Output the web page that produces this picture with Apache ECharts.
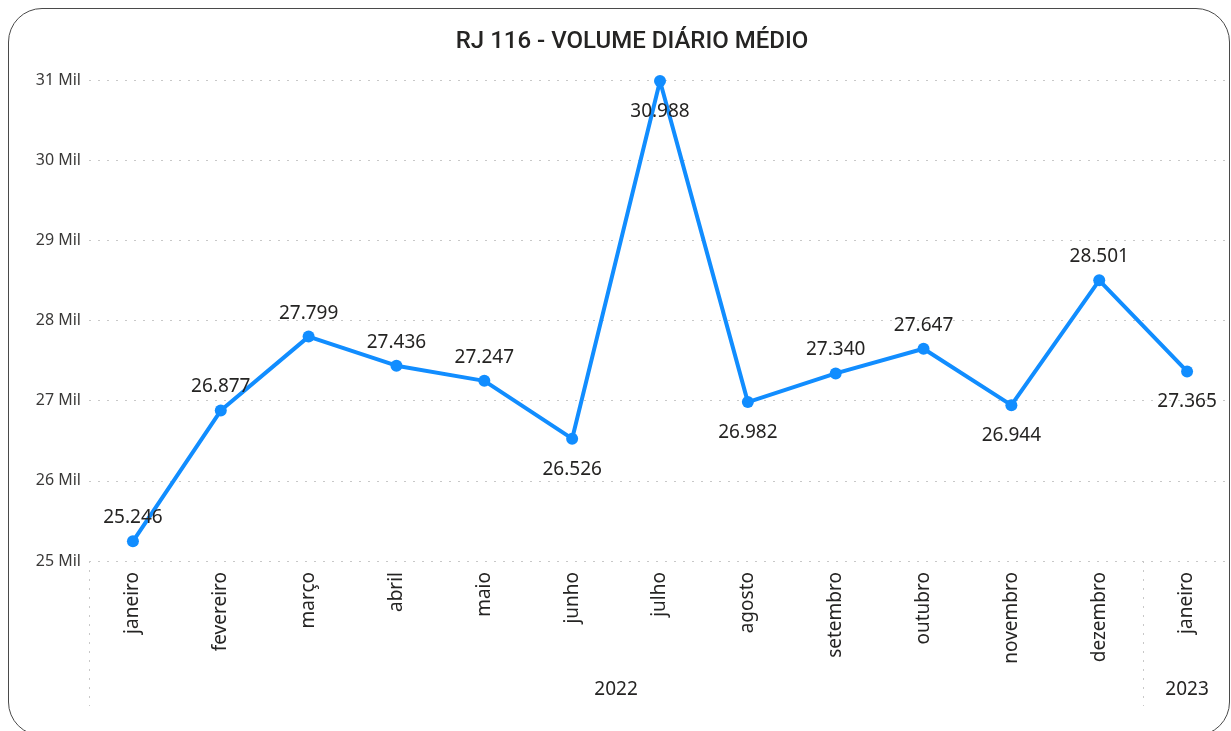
<!DOCTYPE html>
<html>
<head>
<meta charset="utf-8">
<script src="https://cdn.jsdelivr.net/npm/echarts@6/dist/echarts.min.js"></script>
<style>
  html, body { margin: 0; padding: 0; background: #ffffff; overflow: hidden; }
  #frame {
    position: absolute; left: 8px; top: 8px; width: 1222px; height: 728px;
    border: 1.6px solid #4a4a4a; border-radius: 34px; box-sizing: border-box;
  }
  #chart { position: absolute; left: 0; top: 0; width: 1231px; height: 731px; }
</style>
</head>
<body>
<div id="frame"></div>
<div id="chart"></div>
<script>
// Average daily volume per month, RJ 116
const months = ['janeiro', 'fevereiro', 'março', 'abril', 'maio', 'junho', 'julho',
                'agosto', 'setembro', 'outubro', 'novembro', 'dezembro', 'janeiro'];
const volumes = [25246, 26877, 27799, 27436, 27247, 26526, 30988,
                 26982, 27340, 27647, 26944, 28501, 27365];
// Where each value label sits relative to its point
const labelSides = ['top', 'top', 'top', 'top', 'top', 'bottom', 'bottom',
                    'bottom', 'top', 'top', 'bottom', 'top', 'bottom'];
// Year groups: label and number of months in each
const years = ['2022', '2023'];
const yearSpans = [12, 1];
const yTicks = { min: 25000, max: 31000, step: 1000 };

const uiFont = "'Segoe UI', 'Noto Sans', sans-serif";
const fmtNum = v => v.toLocaleString('pt-BR');

const chart = echarts.init(document.getElementById('chart'), null, { renderer: 'canvas' });

const option = {
  backgroundColor: 'transparent',
  animation: false,
  title: {
    text: 'RJ 116 - VOLUME DIÁRIO MÉDIO',
    left: 627, top: 25, textAlign: 'center',
    textStyle: { fontFamily: "'Roboto', sans-serif", fontWeight: 500, fontSize: 24, color: '#252423' }
  },
  grid: { left: 89, right: -1, top: 80, bottom: 170, containLabel: false },
  xAxis: {
    type: 'category',
    data: months,
    boundaryGap: true,
    axisLine: { show: false },
    axisTick: { show: false },
    axisLabel: {
      rotate: 90, margin: 11, interval: 0,
      fontFamily: uiFont, fontSize: 19, color: '#252423'
    },
    splitLine: { show: false }
  },
  yAxis: {
    type: 'value',
    min: yTicks.min, max: yTicks.max, interval: yTicks.step,
    axisLine: { show: false },
    axisTick: { show: false },
    axisLabel: {
      margin: 8, fontFamily: uiFont, fontSize: 16, color: '#3b3a39',
      formatter: v => (v / 1000) + ' Mil'
    },
    splitLine: { lineStyle: { type: [2, 7], color: '#c8c8c8', width: 1 } }
  },
  series: [{
    type: 'line',
    data: volumes.map((v, i) => ({
      value: v,
      label: { position: labelSides[i], distance: labelSides[i] === 'top' ? 8 : 15 }
    })),
    lineStyle: { color: '#118DFF', width: 4 },
    itemStyle: { color: '#118DFF' },
    symbol: 'circle', symbolSize: 12,
    label: {
      show: true, fontFamily: uiFont, fontSize: 19, color: '#252423',
      formatter: p => fmtNum(p.value)
    }
  }]
};
chart.setOption(option);

// Year band below the month labels, positioned from the category scale
function drawYears() {
  const y0 = chart.convertToPixel({ gridIndex: 0 }, [0, yTicks.min])[1];
  const half = (chart.convertToPixel({ xAxisIndex: 0 }, 1) - chart.convertToPixel({ xAxisIndex: 0 }, 0)) / 2;
  const els = [];
  let start = 0;
  years.forEach((yr, k) => {
    const span = yearSpans[k];
    const left = chart.convertToPixel({ xAxisIndex: 0 }, start) - half;
    const right = chart.convertToPixel({ xAxisIndex: 0 }, start + span - 1) + half;
    els.push({
      type: 'line', silent: true,
      shape: { x1: Math.round(left) + 0.5, y1: y0, x2: Math.round(left) + 0.5, y2: y0 + 145 },
      style: { stroke: '#c8c8c8', lineWidth: 1, lineDash: [2, 7] }
    });
    els.push({
      type: 'text', silent: true,
      x: (left + right) / 2, y: y0 + 129,
      style: { text: yr, fontFamily: uiFont, fontSize: 19, fill: '#252423', align: 'center', verticalAlign: 'middle' }
    });
    start += span;
  });
  chart.setOption({ graphic: els });
}
drawYears();
</script>
</body>
</html>
